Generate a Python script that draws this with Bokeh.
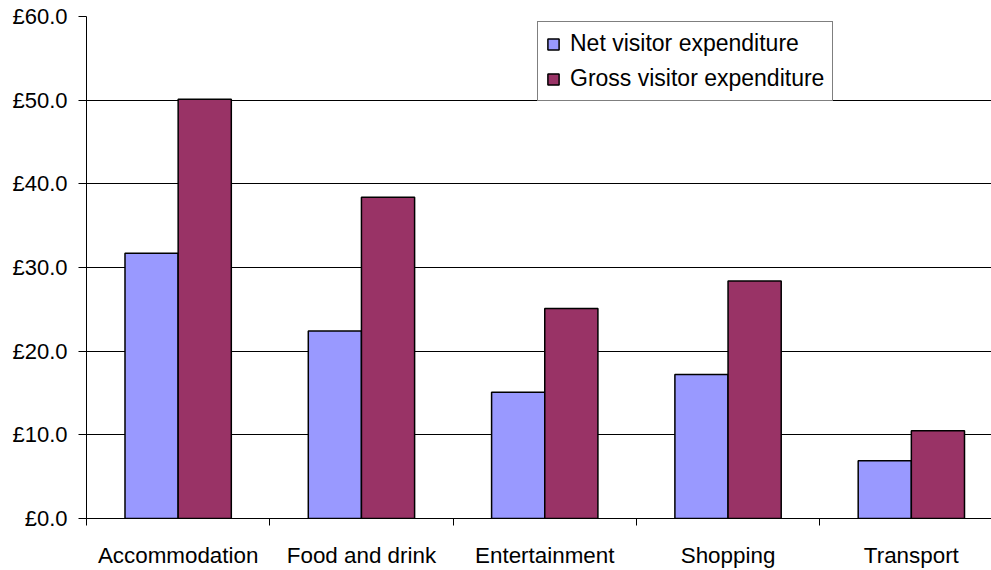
from bokeh.plotting import figure
from bokeh.models import ColumnDataSource, Range1d, FixedTicker, PrintfTickFormatter, Legend, LegendItem
from bokeh.embed import file_html
from bokeh.resources import INLINE

categories = ["Accommodation", "Food and drink", "Entertainment", "Shopping", "Transport"]
net_values = [31.7, 22.4, 15.1, 17.2, 6.9]
gross_values = [50.1, 38.4, 25.1, 28.4, 10.5]
y_ticks = [0, 10, 20, 30, 40, 50, 60]

FONT = "Liberation Sans"
centers = [i + 0.5 for i in range(len(categories))]
bar_w = 0.29

src = ColumnDataSource(dict(
    xn=[c - bar_w / 2 for c in centers],
    xg=[c + bar_w / 2 for c in centers],
    net=net_values,
    gross=gross_values,
))

p = figure(width=991, height=570, output_backend="svg", toolbar_location=None,
           x_range=Range1d(0, 905 / 183.3), y_range=Range1d(0, 60),
           min_border_left=86, min_border_right=0, min_border_top=16, min_border_bottom=51)
p.outline_line_color = None
p.background_fill_color = "white"
p.border_fill_color = "white"

rn = p.vbar(x="xn", top="net", width=bar_w, source=src, fill_color="#9999FF",
            line_color="black", line_width=1.5)
rg = p.vbar(x="xg", top="gross", width=bar_w, source=src, fill_color="#993366",
            line_color="black", line_width=1.5)

# x axis
xa = p.xaxis[0]
xa.ticker = FixedTicker(ticks=centers, minor_ticks=list(range(len(categories) + 1)))
xa.major_label_overrides = {c: lab for c, lab in zip(centers, categories)}
xa.major_tick_out = 0
xa.major_tick_in = 0
xa.minor_tick_out = 7
xa.minor_tick_in = 0
xa.minor_tick_line_color = "black"
xa.axis_line_color = "black"
xa.major_label_text_font = FONT
xa.major_label_text_font_size = "22.4px"
xa.major_label_text_color = "black"
xa.major_label_standoff = 17

# y axis
ya = p.yaxis[0]
ya.ticker = FixedTicker(ticks=y_ticks, minor_ticks=[])
ya.formatter = PrintfTickFormatter(format="£%.1f")
ya.major_tick_out = 8
ya.major_tick_in = 0
ya.major_tick_line_color = "black"
ya.axis_line_color = "black"
ya.major_label_text_font = FONT
ya.major_label_text_font_size = "22px"
ya.major_label_text_color = "black"
ya.major_label_standoff = 11

p.xgrid.grid_line_color = None
p.ygrid.ticker = FixedTicker(ticks=y_ticks)
p.ygrid.grid_line_color = "black"
p.ygrid.grid_line_width = 1

legend = Legend(items=[LegendItem(label="Net visitor expenditure", renderers=[rn]),
                       LegendItem(label="Gross visitor expenditure", renderers=[rg])],
                location=(451, 417))
legend.border_line_color = "black"
legend.border_line_width = 1
legend.background_fill_color = "white"
legend.background_fill_alpha = 1
legend.label_text_font = FONT
legend.label_text_font_size = "23px"
legend.label_text_color = "black"
legend.glyph_width = 14
legend.glyph_height = 14
legend.padding = 8
legend.spacing = 8
legend.label_standoff = 10
legend.label_height = 27
legend.margin = 0
p.add_layout(legend, "center")

open("out.html", "w").write(file_html(p, INLINE))
